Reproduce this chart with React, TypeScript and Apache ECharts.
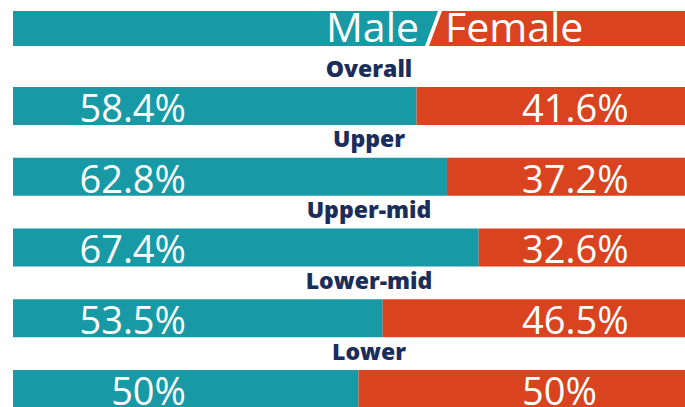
import React, { useEffect, useRef } from "react";
import * as echarts from "echarts";

const categories = ["Overall", "Upper", "Upper-mid", "Lower-mid", "Lower"];
const male = [58.4, 62.8, 67.4, 53.5, 50];
const female = [41.6, 37.2, 32.6, 46.5, 50];
const legendLeft = "Male";
const legendRight = "Female";

const TEAL = "#179aa6";
const RED = "#d94320";
const NAVY = "#1b2d5b";
const FONT = "'Open Sans', 'Noto Sans', sans-serif";

export default function App() {
  const ref = useRef<HTMLDivElement>(null);
  useEffect(() => {
    if (!ref.current) return;
    const chart = echarts.init(ref.current, undefined, { renderer: "svg" });
    const baseY = {
      type: "category",
      data: categories,
      inverse: true,
      position: "left",
      axisLine: { show: false },
      axisTick: { show: false },
      splitLine: { show: false },
      z: 10,
    };
    const valueLabel = (arr: number[], align: string) => ({
      interval: 0,
      hideOverlap: false,
      margin: 0,
      align,
      verticalAlign: "middle",
      formatter: (_v: string, i: number) => "{s| }\n{v|" + arr[i] + "%}",
      rich: {
        s: { fontSize: 2, lineHeight: 2 },
        v: {
          fontSize: 38,
          lineHeight: 28,
          fontFamily: FONT,
          color: "#ffffff",
          align,
        },
      },
    });
    chart.setOption({
      animation: false,
      backgroundColor: "#ffffff",
      grid: {
        left: 13,
        top: 70.6,
        width: 691,
        height: 353.75,
        containLabel: false,
        outerBoundsMode: "none",
      },
      xAxis: { type: "value", min: 0, max: 100, show: false },
      yAxis: [
        {
          ...baseY,
          offset: -356,
          axisLabel: {
            interval: 0,
            hideOverlap: false,
            margin: 0,
            align: "center",
            verticalAlign: "middle",
            formatter: (v: string) => v + "\n \n \n \n ",
            lineHeight: 19.2,
            fontSize: 23,
            fontWeight: 800,
            fontFamily: FONT,
            color: NAVY,
          },
        },
        { ...baseY, offset: -173, axisLabel: valueLabel(male, "right") },
        { ...baseY, offset: -509, axisLabel: valueLabel(female, "left") },
      ],
      series: [
        {
          name: "Male",
          type: "bar",
          stack: "g",
          barWidth: 38,
          data: male,
          itemStyle: { color: TEAL },
        },
        {
          name: "Female",
          type: "bar",
          stack: "g",
          barWidth: 38,
          data: female,
          itemStyle: { color: RED },
        },
      ],
      graphic: [
        {
          type: "polygon",
          shape: { points: [[13, 11], [438, 11], [425, 46], [13, 46]] },
          style: { fill: TEAL },
        },
        {
          type: "polygon",
          shape: { points: [[442, 11], [685, 11], [685, 46], [429, 46]] },
          style: { fill: RED },
        },
        {
          type: "text",
          style: {
            text: legendLeft,
            x: 419,
            y: 26,
            align: "right",
            verticalAlign: "middle",
            fontSize: 41,
            lineHeight: 32,
            fontFamily: FONT,
            fill: "#ffffff",
          },
        },
        {
          type: "text",
          style: {
            text: legendRight,
            x: 445,
            y: 26,
            align: "left",
            verticalAlign: "middle",
            fontSize: 41,
            lineHeight: 32,
            fontFamily: FONT,
            fill: "#ffffff",
          },
        },
      ],
    });
    return () => chart.dispose();
  }, []);
  return (
    <div
      ref={ref}
      style={{ position: "absolute", left: 0, top: 0, width: 685, height: 407 }}
    />
  );
}
